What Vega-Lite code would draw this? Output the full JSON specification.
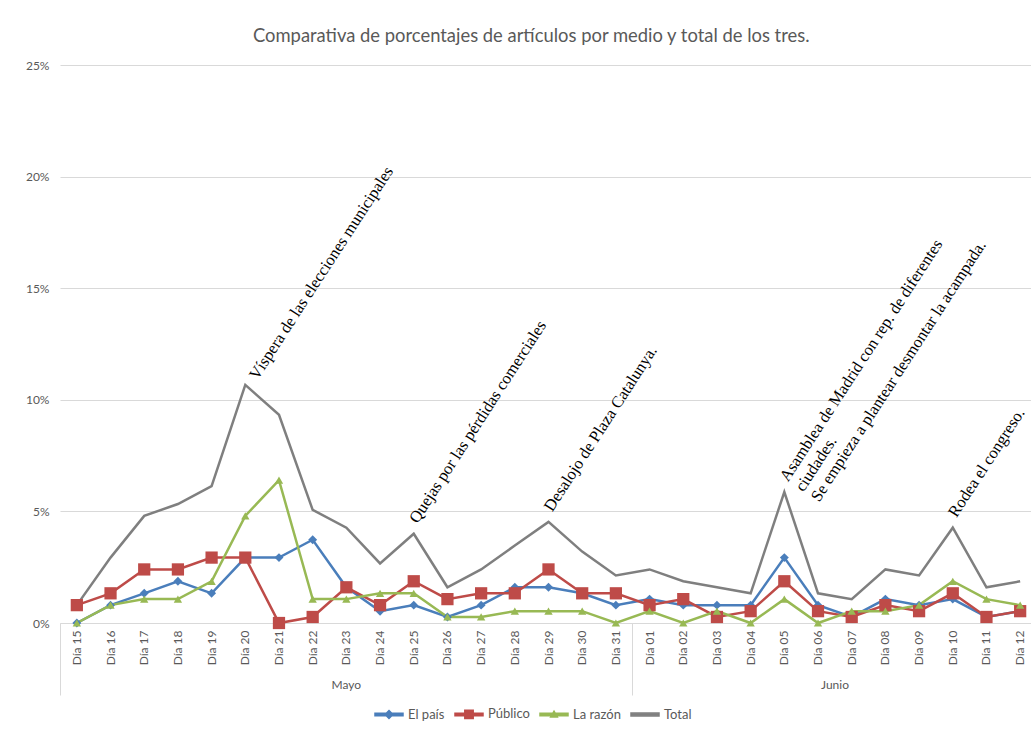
{
  "$schema": "https://vega.github.io/schema/vega-lite/v6.json",
  "width": 977,
  "height": 558,
  "padding": {"left": 25, "top": 26, "right": 0, "bottom": 0},
  "background": "white",
  "title": {"text": "Comparativa de porcentajes de artículos por medio y total de los tres.", "font": "Lato", "fontSize": 18.4, "fontWeight": "normal", "color": "#595959", "offset": 14, "frame": "bounds", "anchor": "middle"},
  "config": {"view": {"stroke": null}, "font": "Lato", "axis": {"labelFont": "Lato", "labelColor": "#595959", "labelFontSize": 12}, "legend": {"labelFont": "Lato", "labelColor": "#595959", "labelFontSize": 13}},
  "resolve": {"axis": {"x": "independent"}},
  "data": {"values": [
    {"dia":"Día 15","serie":"El país","pct":0},{"dia":"Día 16","serie":"El país","pct":0.8},{"dia":"Día 17","serie":"El país","pct":1.33},{"dia":"Día 18","serie":"El país","pct":1.87},{"dia":"Día 19","serie":"El país","pct":1.33},{"dia":"Día 20","serie":"El país","pct":2.93},{"dia":"Día 21","serie":"El país","pct":2.93},{"dia":"Día 22","serie":"El país","pct":3.73},{"dia":"Día 23","serie":"El país","pct":1.6},{"dia":"Día 24","serie":"El país","pct":0.53},{"dia":"Día 25","serie":"El país","pct":0.8},{"dia":"Día 26","serie":"El país","pct":0.27},{"dia":"Día 27","serie":"El país","pct":0.8},{"dia":"Día 28","serie":"El país","pct":1.6},{"dia":"Día 29","serie":"El país","pct":1.6},{"dia":"Día 30","serie":"El país","pct":1.33},{"dia":"Día 31","serie":"El país","pct":0.8},{"dia":"Día 01","serie":"El país","pct":1.07},{"dia":"Día 02","serie":"El país","pct":0.8},{"dia":"Día 03","serie":"El país","pct":0.8},{"dia":"Día 04","serie":"El país","pct":0.8},{"dia":"Día 05","serie":"El país","pct":2.93},{"dia":"Día 06","serie":"El país","pct":0.8},{"dia":"Día 07","serie":"El país","pct":0.27},{"dia":"Día 08","serie":"El país","pct":1.07},{"dia":"Día 09","serie":"El país","pct":0.8},{"dia":"Día 10","serie":"El país","pct":1.07},{"dia":"Día 11","serie":"El país","pct":0.27},{"dia":"Día 12","serie":"El país","pct":0.53},
    {"dia":"Día 15","serie":"Público","pct":0.8},{"dia":"Día 16","serie":"Público","pct":1.33},{"dia":"Día 17","serie":"Público","pct":2.4},{"dia":"Día 18","serie":"Público","pct":2.4},{"dia":"Día 19","serie":"Público","pct":2.93},{"dia":"Día 20","serie":"Público","pct":2.93},{"dia":"Día 21","serie":"Público","pct":0},{"dia":"Día 22","serie":"Público","pct":0.27},{"dia":"Día 23","serie":"Público","pct":1.6},{"dia":"Día 24","serie":"Público","pct":0.8},{"dia":"Día 25","serie":"Público","pct":1.87},{"dia":"Día 26","serie":"Público","pct":1.07},{"dia":"Día 27","serie":"Público","pct":1.33},{"dia":"Día 28","serie":"Público","pct":1.33},{"dia":"Día 29","serie":"Público","pct":2.4},{"dia":"Día 30","serie":"Público","pct":1.33},{"dia":"Día 31","serie":"Público","pct":1.33},{"dia":"Día 01","serie":"Público","pct":0.8},{"dia":"Día 02","serie":"Público","pct":1.07},{"dia":"Día 03","serie":"Público","pct":0.27},{"dia":"Día 04","serie":"Público","pct":0.53},{"dia":"Día 05","serie":"Público","pct":1.87},{"dia":"Día 06","serie":"Público","pct":0.53},{"dia":"Día 07","serie":"Público","pct":0.27},{"dia":"Día 08","serie":"Público","pct":0.8},{"dia":"Día 09","serie":"Público","pct":0.53},{"dia":"Día 10","serie":"Público","pct":1.33},{"dia":"Día 11","serie":"Público","pct":0.27},{"dia":"Día 12","serie":"Público","pct":0.53},
    {"dia":"Día 15","serie":"La razón","pct":0},{"dia":"Día 16","serie":"La razón","pct":0.8},{"dia":"Día 17","serie":"La razón","pct":1.07},{"dia":"Día 18","serie":"La razón","pct":1.07},{"dia":"Día 19","serie":"La razón","pct":1.87},{"dia":"Día 20","serie":"La razón","pct":4.8},{"dia":"Día 21","serie":"La razón","pct":6.4},{"dia":"Día 22","serie":"La razón","pct":1.07},{"dia":"Día 23","serie":"La razón","pct":1.07},{"dia":"Día 24","serie":"La razón","pct":1.33},{"dia":"Día 25","serie":"La razón","pct":1.33},{"dia":"Día 26","serie":"La razón","pct":0.27},{"dia":"Día 27","serie":"La razón","pct":0.27},{"dia":"Día 28","serie":"La razón","pct":0.53},{"dia":"Día 29","serie":"La razón","pct":0.53},{"dia":"Día 30","serie":"La razón","pct":0.53},{"dia":"Día 31","serie":"La razón","pct":0},{"dia":"Día 01","serie":"La razón","pct":0.53},{"dia":"Día 02","serie":"La razón","pct":0},{"dia":"Día 03","serie":"La razón","pct":0.53},{"dia":"Día 04","serie":"La razón","pct":0},{"dia":"Día 05","serie":"La razón","pct":1.07},{"dia":"Día 06","serie":"La razón","pct":0},{"dia":"Día 07","serie":"La razón","pct":0.53},{"dia":"Día 08","serie":"La razón","pct":0.53},{"dia":"Día 09","serie":"La razón","pct":0.8},{"dia":"Día 10","serie":"La razón","pct":1.87},{"dia":"Día 11","serie":"La razón","pct":1.07},{"dia":"Día 12","serie":"La razón","pct":0.8},
    {"dia":"Día 15","serie":"Total","pct":0.8},{"dia":"Día 16","serie":"Total","pct":2.93},{"dia":"Día 17","serie":"Total","pct":4.8},{"dia":"Día 18","serie":"Total","pct":5.33},{"dia":"Día 19","serie":"Total","pct":6.13},{"dia":"Día 20","serie":"Total","pct":10.67},{"dia":"Día 21","serie":"Total","pct":9.33},{"dia":"Día 22","serie":"Total","pct":5.07},{"dia":"Día 23","serie":"Total","pct":4.27},{"dia":"Día 24","serie":"Total","pct":2.67},{"dia":"Día 25","serie":"Total","pct":4},{"dia":"Día 26","serie":"Total","pct":1.6},{"dia":"Día 27","serie":"Total","pct":2.4},{"dia":"Día 28","serie":"Total","pct":3.47},{"dia":"Día 29","serie":"Total","pct":4.53},{"dia":"Día 30","serie":"Total","pct":3.2},{"dia":"Día 31","serie":"Total","pct":2.13},{"dia":"Día 01","serie":"Total","pct":2.4},{"dia":"Día 02","serie":"Total","pct":1.87},{"dia":"Día 03","serie":"Total","pct":1.6},{"dia":"Día 04","serie":"Total","pct":1.33},{"dia":"Día 05","serie":"Total","pct":5.87},{"dia":"Día 06","serie":"Total","pct":1.33},{"dia":"Día 07","serie":"Total","pct":1.07},{"dia":"Día 08","serie":"Total","pct":2.4},{"dia":"Día 09","serie":"Total","pct":2.13},{"dia":"Día 10","serie":"Total","pct":4.27},{"dia":"Día 11","serie":"Total","pct":1.6},{"dia":"Día 12","serie":"Total","pct":1.87}
  ]},
  "encoding": {
    "y": {"field": "pct", "type": "quantitative", "scale": {"domain": [0, 25], "nice": false}, "axis": {"title": null, "values": [0, 5, 10, 15, 20, 25], "labelExpr": "datum.value + '%'", "domain": false, "ticks": false, "grid": true, "gridColor": "#D9D9D9", "labelPadding": 11}}
  },
  "layer": [
    {
      "mark": {"type": "line", "strokeWidth": 2.5},
      "encoding": {
        "x": {"field": "dia", "type": "ordinal", "scale": {"type": "band", "paddingInner": 0, "paddingOuter": 0, "domain": ["Día 15","Día 16","Día 17","Día 18","Día 19","Día 20","Día 21","Día 22","Día 23","Día 24","Día 25","Día 26","Día 27","Día 28","Día 29","Día 30","Día 31","Día 01","Día 02","Día 03","Día 04","Día 05","Día 06","Día 07","Día 08","Día 09","Día 10","Día 11","Día 12"]}, "axis": {"orient": "bottom", "title": null, "labelAngle": -90, "labelPadding": 7, "ticks": false, "domain": true, "domainColor": "#D9D9D9", "grid": false}},
        "color": {"field": "serie", "type": "nominal", "scale": {"domain": ["El país", "Público", "La razón", "Total"], "range": ["#4A7EBB", "#BE4B48", "#98B954", "#7F7F7F"]}, "legend": {"title": null, "orient": "none", "legendX": 314, "legendY": 634, "direction": "horizontal", "symbolSize": 784, "labelOffset": 4, "columnPadding": 7}}
      }
    },
    {
      "transform": [{"filter": "datum.serie == 'El país'"}],
      "mark": {"type": "point", "shape": "diamond", "filled": true, "color": "#4A7EBB", "size": 80, "opacity": 1},
      "encoding": {
        "x": {"field": "dia", "type": "ordinal", "axis": null}
      }
    },
    {
      "transform": [{"filter": "datum.serie == 'Público'"}],
      "mark": {"type": "point", "shape": "square", "filled": true, "color": "#BE4B48", "size": 150, "opacity": 1},
      "encoding": {
        "x": {"field": "dia", "type": "ordinal", "axis": null}
      }
    },
    {
      "transform": [{"filter": "datum.serie == 'La razón'"}],
      "mark": {"type": "point", "shape": "triangle-up", "filled": true, "color": "#98B954", "size": 70, "opacity": 1},
      "encoding": {
        "x": {"field": "dia", "type": "ordinal", "axis": null}
      }
    },
    {
      "data": {"values": [
        {"dia": "Día 20", "pct": 10.67, "texto": "Víspera de las elecciones municipales"}
      ]},
      "mark": {"type": "text", "angle": -57, "align": "left", "baseline": "alphabetic", "dx": 10, "dy": 8, "font": "Liberation Serif", "fontSize": 16.5, "color": "black"},
      "encoding": {
        "x": {"field": "dia", "type": "ordinal", "axis": null},
        "text": {"field": "texto", "type": "nominal"}
      }
    },
    {
      "data": {"values": [
        {"dia": "Día 25", "pct": 4, "texto": "Quejas por las pérdidas comerciales"},
        {"dia": "Día 29", "pct": 4.53, "texto": "Desalojo de Plaza Catalunya."},
        {"dia": "Día 05", "pct": 5.87, "texto": "Asamblea de Madrid con rep. de diferentes\nciudades.\nSe empieza a plantear desmontar la acampada."},
        {"dia": "Día 10", "pct": 4.27, "texto": "Rodea el congreso."}
      ]},
      "mark": {"type": "text", "angle": -57, "align": "left", "baseline": "alphabetic", "dx": 10, "dy": -2, "font": "Liberation Serif", "fontSize": 16.5, "color": "black", "lineBreak": "\n", "lineHeight": 18.5},
      "encoding": {
        "x": {"field": "dia", "type": "ordinal", "axis": {"orient": "bottom", "title": null, "values": ["Día 23", "Día 06"], "labelExpr": "datum.value == 'Día 23' ? 'Mayo' : 'Junio'", "labelAngle": 0, "labelAlign": "center", "labelBaseline": "top", "labelPadding": 56, "labelOffset": {"condition": {"test": "datum.value == 'Día 06'", "value": 17}, "value": 0}, "ticks": false, "domain": false, "grid": false}},
        "text": {"field": "texto", "type": "nominal"}
      }
    },
    {
      "transform": [{"filter": "false"}],
      "mark": {"type": "point", "filled": true, "opacity": 1},
      "encoding": {
        "x": {"field": "dia", "type": "ordinal", "axis": {"orient": "bottom", "title": null, "values": ["Día 15", "Día 01"], "bandPosition": 0, "ticks": true, "tickSize": 72, "tickColor": "#D9D9D9", "tickWidth": 1, "labels": false, "domain": false, "grid": false}},
        "color": {"field": "serie", "type": "nominal", "scale": {"domain": ["El país", "Público", "La razón", "Total"], "range": ["#4A7EBB", "#BE4B48", "#98B954", "#7F7F7F"]}, "legend": {"title": null, "orient": "none", "legendX": 314, "legendY": 634, "direction": "horizontal", "symbolSize": 784, "labelOffset": 4, "columnPadding": 7}},
        "shape": {"field": "serie", "type": "nominal", "scale": {"domain": ["El país", "Público", "La razón", "Total"], "range": ["M-1,-0.09H1V0.09H-1Z M0,-0.28L0.28,0L0,0.28L-0.28,0Z", "M-1,-0.09H1V0.09H-1Z M-0.3,-0.3H0.3V0.3H-0.3Z", "M-1,-0.09H1V0.09H-1Z M0,-0.24L0.24,0.18H-0.24Z", "M-1,-0.1H1V0.1H-1Z"]}, "legend": {"title": null, "orient": "none", "legendX": 314, "legendY": 634, "direction": "horizontal", "symbolSize": 784, "labelOffset": 4, "columnPadding": 7}}
      }
    }
  ]
}
